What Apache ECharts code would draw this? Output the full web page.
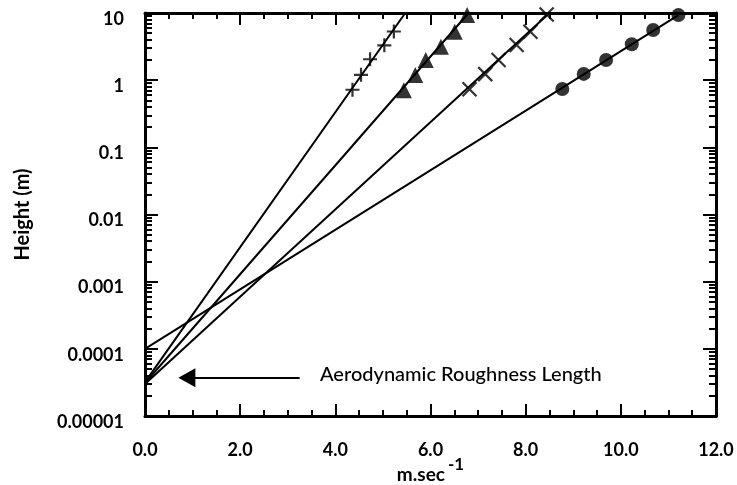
<!DOCTYPE html>
<html>
<head>
<meta charset="utf-8">
<script src="https://cdn.jsdelivr.net/npm/echarts@6/dist/echarts.min.js"></script>
<style>
html,body{margin:0;padding:0;background:#fff;}
#chart{width:737px;height:485px;}
</style>
</head>
<body>
<div id="chart"></div>
<script>
// ---- data ----
const yTickValues = [0.00001, 0.0001, 0.001, 0.01, 0.1, 1, 10];
const yTickLabels = ['0.00001', '0.0001', '0.001', '0.01', '0.1', '1', '10'];
const xTickLabels = ['0.0', '2.0', '4.0', '6.0', '8.0', '10.0', '12.0'];

// measured profiles (wind speed m/s, height m)
const plusX  = [4.36, 4.54, 4.73, 5.03, 5.23];
const plusY  = [0.72, 1.2, 2.05, 3.3, 5.3];
const triX   = [5.44, 5.68, 5.90, 6.22, 6.51, 6.77];
const triY   = [0.71, 1.19, 2.0, 3.15, 5.27, 9.3];
const crossX = [6.82, 7.15, 7.43, 7.81, 8.10, 8.44];
const crossY = [0.73, 1.23, 2.0, 3.34, 5.27, 9.5];
const dotX   = [8.77, 9.22, 9.69, 10.23, 10.68, 11.21];
const dotY   = [0.74, 1.24, 2.0, 3.42, 5.58, 9.3];

// fitted log-profile lines: from roughness length at 0 m/s to top
const plusFitX  = [0, 5.47];  const plusFitY  = [3.2e-5, 10];
const triFitX   = [0, 6.80];  const triFitY   = [3.1e-5, 10];
const crossFitX = [0, 8.50];  const crossFitY = [3.0e-5, 10];
const dotFitX   = [0, 11.21]; const dotFitY   = [1.0e-4, 9.3];

const annotationText = 'Aerodynamic Roughness Length';

// ---- build ----
const pairs = (xs, ys) => xs.map((x, i) => [x, ys[i]]);
const minorY = [];
for (let e = -5; e < 1; e++) for (let m = 2; m <= 9; m++) minorY.push(+(m * Math.pow(10, e)).toPrecision(3));

const FONT = 'Lato';
const yMin = 0.00001, yMax = 10;

function yAxisBase(pos, major) {
  return {
    type: 'log', logBase: 10, min: yMin, max: yMax, position: pos,
    axisLine: { show: major, lineStyle: { color: '#000', width: 3 } },
    axisTick: { show: true, inside: true, length: major ? 13 : 7,
      lineStyle: { color: '#000', width: 2 },
      customValues: major ? yTickValues : minorY },
    axisLabel: { show: false },
    splitLine: { show: false }, minorTick: { show: false }
  };
}
function xAxisBase(pos) {
  return {
    type: 'value', min: 0, max: 12, interval: 2, position: pos,
    axisLine: { show: true, onZero: false, lineStyle: { color: '#000', width: 3 } },
    axisTick: { show: true, inside: true, length: 12, lineStyle: { color: '#000', width: 2 } },
    minorTick: { show: true, splitNumber: 4, length: 6, lineStyle: { color: '#000', width: 2 } },
    axisLabel: { show: false }, splitLine: { show: false }, minorSplitLine: { show: false }
  };
}

const xMain = xAxisBase('bottom');
xMain.axisLabel = { show: true, margin: 25, color: '#000', fontFamily: FONT, fontSize: 18, fontWeight: 'bold',
  formatter: v => xTickLabels[Math.round(v / 2)] };
xMain.name = '{a|m.sec}{b|-1}';
xMain.nameLocation = 'middle';
xMain.nameGap = 40;
xMain.nameMoveOverlap = false;
xMain.nameTextStyle = { color: '#000', verticalAlign: 'top', rich: {
  a: { fontFamily: FONT, fontSize: 19, fontWeight: 'bold', color: '#000', lineHeight: 28, verticalAlign: 'bottom' },
  b: { fontFamily: FONT, fontSize: 17, fontWeight: 'bold', color: '#000', verticalAlign: 'top', padding: [0, 0, 0, 3] } } };

const yMain = yAxisBase('left', true);
yMain.axisLabel = { show: true, margin: 21, color: '#000',
  customValues: yTickValues,
  formatter: v => '{t|' + yTickLabels[Math.round(Math.log10(v)) + 5] + '}',
  rich: { t: { fontFamily: FONT, fontSize: 18, fontWeight: 'bold', color: '#000', padding: [12, 0, 0, 0] } } };
yMain.name = 'Height (m)';
yMain.nameLocation = 'middle';
yMain.nameGap = 112;
yMain.nameMoveOverlap = false;
yMain.nameTextStyle = { color: '#000', fontFamily: FONT, fontSize: 20, fontWeight: 'bold' };

const sym = {
  plus: 'path://M0,5L10,5M5,0L5,10',
  cross: 'path://M0,0L10,10M10,0L0,10'
};

function fitLine(xs, ys) {
  return { type: 'line', data: pairs(xs, ys), xAxisIndex: 0, yAxisIndex: 0, symbol: 'none',
    lineStyle: { color: '#000', width: 2 }, z: 2, silent: true, animation: false };
}
function points(xs, ys, symbol, size, filled) {
  return { type: 'scatter', data: pairs(xs, ys), xAxisIndex: 0, yAxisIndex: 0, symbol, symbolSize: size,
    itemStyle: filled ? { color: '#000' } : { color: 'rgba(0,0,0,0)', borderColor: '#000', borderWidth: 2.2 },
    z: 3, animation: false };
}

const arrowSeries = {
  type: 'line', data: [], xAxisIndex: 0, yAxisIndex: 0, animation: false,
  markLine: {
    silent: true, animation: false,
    lineStyle: { color: '#000', width: 2, type: 'solid' },
    label: { show: false },
    symbol: ['none', 'triangle'], symbolSize: [19, 17],
    data: [[{ coord: [3.25, 3.7e-5] }, { coord: [0.88, 3.7e-5] }]]
  }
};

const option = {
  backgroundColor: '#fff',
  animation: false,
  grid: { left: 145, right: 21, top: 13, bottom: 69, containLabel: false, outerBoundsMode: 'none' },
  xAxis: [xMain, xAxisBase('top')],
  yAxis: [yMain, yAxisBase('left', false), yAxisBase('right', true), yAxisBase('right', false)],
  series: [
    fitLine(plusFitX, plusFitY),
    fitLine(triFitX, triFitY),
    fitLine(crossFitX, crossFitY),
    fitLine(dotFitX, dotFitY),
    points(plusX, plusY, sym.plus, 14, false),
    points(triX, triY, 'triangle', 16, true),
    points(crossX, crossY, sym.cross, 14, false),
    points(dotX, dotY, 'circle', 14, true),
    arrowSeries
  ],
  graphic: [{
    type: 'text', left: 320, top: 365, silent: true,
    style: { text: annotationText, fill: '#000', font: '500 20px Lato' }
  }]
};

const chart = echarts.init(document.getElementById('chart'), null, { renderer: 'canvas' });
chart.setOption(option);
</script>
</body>
</html>
